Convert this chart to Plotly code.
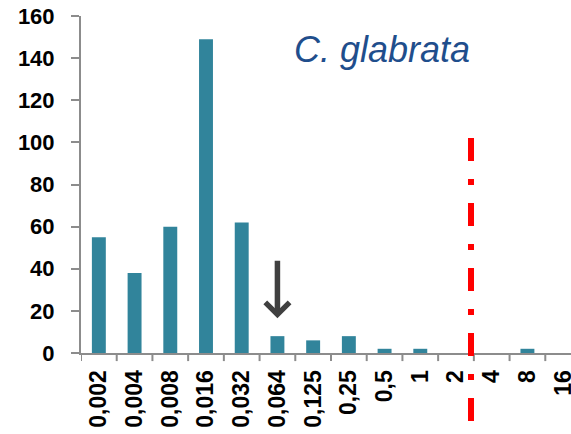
import plotly.graph_objects as go

categories = ["0,002", "0,004", "0,008", "0,016", "0,032", "0,064", "0,125",
              "0,25", "0,5", "1", "2", "4", "8", "16"]
counts = [55, 38, 60, 149, 62, 8, 6, 8, 2, 2, 0, 0, 2, 0]
y_ticks = [0, 20, 40, 60, 80, 100, 120, 140, 160]

breakpoint_pos = 10.42  # between "2" and "4"
arrow_cat = "0,064"

fig = go.Figure()
fig.add_trace(go.Bar(
    x=list(range(len(categories))),
    y=counts,
    marker=dict(color="#31849B", line=dict(width=0)),
    hoverinfo="skip",
))

axis_col = "#8C8C8C"
ytick_font = dict(family="Liberation Sans, Arial, sans-serif", size=22, color="black", weight="bold")
xtick_font = dict(family="Liberation Sans, Arial, sans-serif", size=23, color="black", weight="bold")

fig.update_layout(
    width=571, height=434,
    margin=dict(l=81, r=0, t=16, b=81),
    paper_bgcolor="white", plot_bgcolor="white",
    bargap=0.61,
    showlegend=False,
    xaxis=dict(
        tickmode="array",
        tickvals=list(range(len(categories))),
        ticktext=categories,
        range=[-0.5, 13.22],
        tickangle=-90,
        tickfont=xtick_font,
        showgrid=False, zeroline=False,
        showline=True, linecolor=axis_col, linewidth=2,
        ticks="", ticklabelstandoff=6,
        ticklabeloverflow="allow",
        automargin=False,
    ),
    yaxis=dict(
        range=[0, 160],
        tickvals=y_ticks,
        tickfont=ytick_font,
        showgrid=False, zeroline=False,
        showline=True, linecolor=axis_col, linewidth=2,
        ticks="outside", ticklen=8, tickwidth=2, tickcolor=axis_col,
        ticklabelstandoff=12,
        automargin=False,
    ),
)

# boundary tick marks on category axis
for i in range(len(categories) + 1):
    fig.add_shape(type="line", xref="x", yref="paper",
                  x0=i - 0.5, x1=i - 0.5, y0=0, y1=-0.024,
                  line=dict(color=axis_col, width=2))

# red dash-dot breakpoint line
fig.add_shape(type="line", xref="x", yref="paper",
              x0=breakpoint_pos, x1=breakpoint_pos, y0=0.638, y1=-0.2136,
              line=dict(color="#FF0000", width=6, dash="23px,18px,6px,18px"))

# arrow
ai = categories.index(arrow_cat)
fig.add_annotation(x=ai, y=16.5, ax=ai, ay=44.5, xref="x", yref="y",
                   axref="x", ayref="y", text="", showarrow=True,
                   arrowhead=4, arrowwidth=5.5, arrowsize=0.85, arrowcolor="#404040")

# title
fig.add_annotation(text="C. glabrata", xref="paper", yref="paper",
                   x=0.614, y=0.902, xanchor="center", yanchor="middle",
                   showarrow=False,
                   font=dict(family="Liberation Sans, Arial, sans-serif", size=36,
                             color="#1F4E8C", style="italic"))

fig.write_html("out.html")
